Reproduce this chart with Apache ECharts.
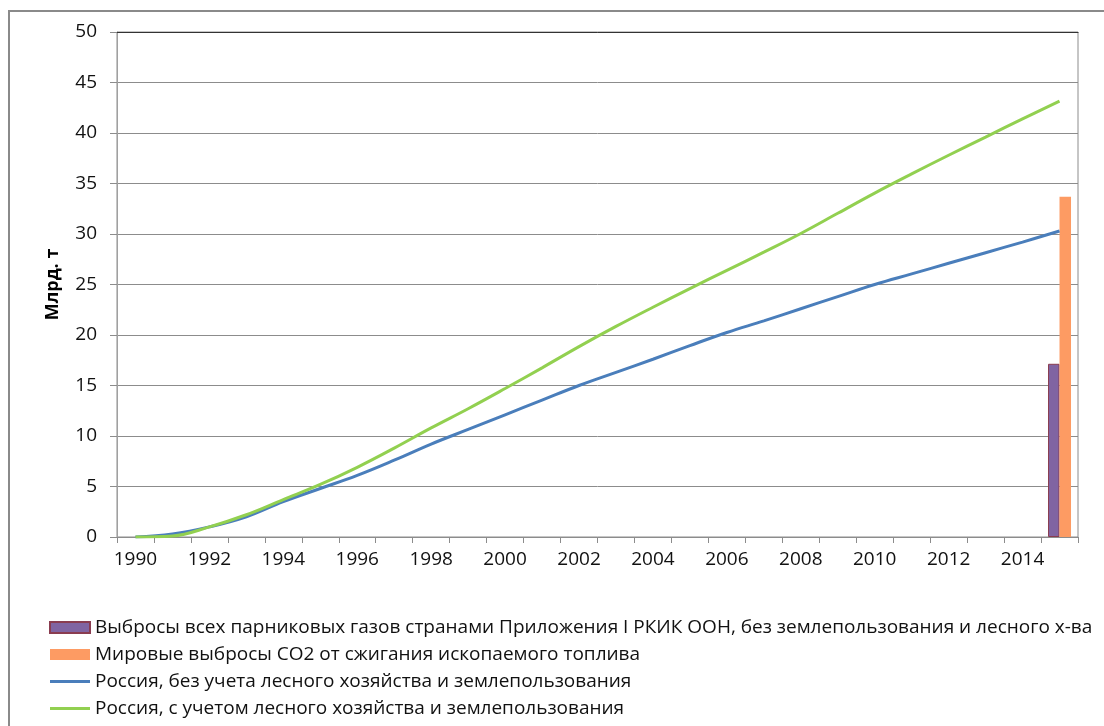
<!DOCTYPE html>
<html>
<head>
<meta charset="utf-8">
<title>Накопленные выбросы</title>
<script src="https://cdn.jsdelivr.net/npm/echarts@6/dist/echarts.min.js"></script>
<style>
    html, body { margin: 0; padding: 0; background: #fff; }
    #tpl-echarts { width: 1104px; height: 726px; }
</style>
</head>
<body>
<div id="tpl-echarts"></div>
<script>
// годы по оси X
var years = ['1990','1991','1992','1993','1994','1995','1996','1997','1998','1999','2000','2001','2002',
             '2003','2004','2005','2006','2007','2008','2009','2010','2011','2012','2013','2014','2015'];

// Россия, без учета лесного хозяйства (млрд. т)
var russiaNoForest = [0, 0.3, 1.0, 2.0, 3.5, 4.8, 6.1, 7.6, 9.2, 10.65, 12.1, 13.55, 15.0,
                      16.3, 17.6, 18.95, 20.25, 21.4, 22.6, 23.8, 25.0, 26.05, 27.1, 28.15, 29.2, 30.3];
// Россия, с учетом лесного хозяйства
var russiaForest = [0, 0.1, 1.0, 2.2, 3.7, 5.2, 6.9, 8.8, 10.8, 12.7, 14.7, 16.75, 18.85,
                    20.85, 22.75, 24.6, 26.4, 28.2, 30.05, 32.05, 34.05, 35.95, 37.8, 39.6, 41.4, 43.15];

// столбцы только для последнего года
var annexIValue = 17.15;
var worldCO2Value = 33.7;

var seriesNames = [
    'Выбросы всех парниковых газов странами Приложения I РКИК ООН, без землепользования и лесного х-ва',
    'Мировые выбросы CO2 от сжигания ископаемого топлива',
    'Россия, без учета лесного хозяйства и землепользования',
    'Россия, с учетом лесного хозяйства и землепользования'
];

function lastOnly(v) {
    var arr = [];
    for (var i = 0; i < years.length; i++) {
        arr.push(i == years.length - 1 ? v : '-');
    }
    return arr;
}

function drawChart() {
    var chart = echarts.init(document.getElementById('tpl-echarts'));
    var font = '"Open Sans", sans-serif';
    var lineIcon = 'path://M0,0H40V3H0Z';   // просто линия, без кружка
    var option = {
        backgroundColor: '#fff',
        animation: false,
        graphic: [{
            type: 'rect',
            shape: { x: 9, y: 11, width: 1300, height: 900 },
            style: { fill: 'none', stroke: '#8a8a8a', lineWidth: 2 },
            silent: true
        }],
        legend: {
            orient: 'vertical',
            left: 49,
            top: 618,
            height: 130,
            padding: 0,
            itemWidth: 40,
            itemHeight: 11,
            itemGap: 8,
            textStyle: { fontFamily: font, fontSize: 19, color: '#111', lineHeight: 19 },
            data: [
                { name: seriesNames[0], icon: 'rect' },
                { name: seriesNames[1], icon: 'rect' },
                { name: seriesNames[2], icon: lineIcon },
                { name: seriesNames[3], icon: lineIcon }
            ]
        },
        grid: {
            left: 117,
            right: 26,
            top: 32,
            bottom: 189,
            show: true,
            borderColor: '#8c8c8c',
            borderWidth: 1
        },
        xAxis: [
            {
                type: 'category',
                data: years,
                boundaryGap: true,
                axisLine: { lineStyle: { color: '#8c8c8c' } },
                axisTick: { show: true, interval: 0, length: 6, lineStyle: { color: '#8c8c8c' } },
                axisLabel: { interval: 1, margin: 13, fontFamily: font, fontSize: 19, color: '#111' }
            },
            {
                type: 'category',
                data: years,
                position: 'top',
                axisLine: { lineStyle: { color: '#333' } },
                axisTick: { show: false },
                axisLabel: { show: false }
            }
        ],
        yAxis: {
            type: 'value',
            min: 0,
            max: 50,
            interval: 5,
            name: 'Млрд. т',
            nameLocation: 'middle',
            nameGap: 55,
            nameTextStyle: { fontFamily: font, fontSize: 18, fontWeight: 'bold', color: '#000' },
            axisLine: { show: true, lineStyle: { color: '#a0a0a0' } },
            axisTick: { show: true, length: 7, lineStyle: { color: '#8c8c8c' } },
            axisLabel: { margin: 20, fontFamily: font, fontSize: 19, color: '#111' },
            splitLine: { lineStyle: { color: '#8c8c8c' } }
        },
        series: [
            {
                name: seriesNames[0],
                type: 'bar',
                barWidth: 11.5,
                barGap: '0%',
                itemStyle: { color: '#8064a2', borderColor: '#8a3c50', borderWidth: 1 },
                data: lastOnly(annexIValue)
            },
            {
                name: seriesNames[1],
                type: 'bar',
                barWidth: 11.5,
                barGap: '0%',
                itemStyle: { color: '#fd9b63' },
                data: lastOnly(worldCO2Value)
            },
            {
                name: seriesNames[2],
                type: 'line',
                smooth: 0.4,
                symbol: 'none',
                lineStyle: { color: '#4a7ebb', width: 3 },
                itemStyle: { color: '#4a7ebb' },
                data: russiaNoForest
            },
            {
                name: seriesNames[3],
                type: 'line',
                smooth: 0.4,
                symbol: 'none',
                lineStyle: { color: '#92d050', width: 3 },
                itemStyle: { color: '#92d050' },
                data: russiaForest
            }
        ]
    };
    chart.setOption(option);
}

drawChart();
</script>
</body>
</html>
